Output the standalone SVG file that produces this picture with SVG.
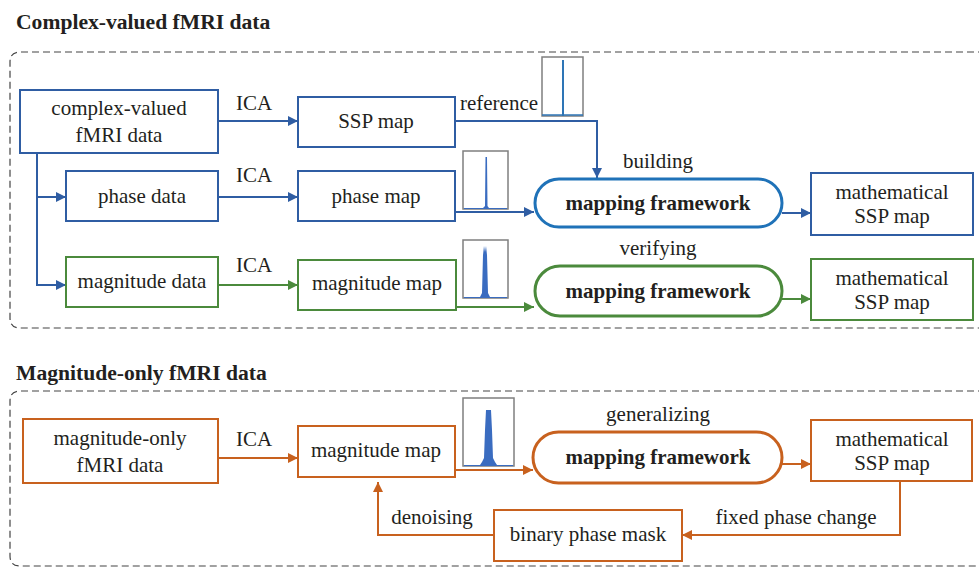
<svg xmlns="http://www.w3.org/2000/svg" width="979" height="568" viewBox="0 0 979 568">
<style>
text{font-family:'Liberation Serif','Times New Roman',serif;font-size:21px;fill:#231f20;text-anchor:middle}
.title{font-weight:bold;text-anchor:start;font-size:21.6px}
.bold{font-weight:bold;font-size:21px}
.dash{fill:none;stroke:#444;stroke-width:1.2;stroke-dasharray:7 4}
.b{fill:#fff;stroke:#2f5da3;stroke-width:2}
.g{fill:#fff;stroke:#4b8a3c;stroke-width:2}
.o{fill:#fff;stroke:#c8611e;stroke-width:2}
.bp{fill:#fff;stroke:#1f72b8;stroke-width:3}
.gp{fill:#fff;stroke:#4b8a3c;stroke-width:3}
.op{fill:#fff;stroke:#c8611e;stroke-width:3}
.hist{fill:#fff;stroke:#7f7f7f;stroke-width:1.5}
.cb{fill:none;stroke:#2f5da3;stroke-width:2}
.cg{fill:none;stroke:#4b8a3c;stroke-width:2}
.co{fill:none;stroke:#c8611e;stroke-width:2}
</style>
<defs>
<marker id="ab" viewBox="0 0 10 10" refX="10" refY="5" markerWidth="12" markerHeight="10" markerUnits="userSpaceOnUse" orient="auto"><path d="M0,0 L10,5 L0,10 z" fill="#2f5da3"/></marker>
<marker id="ag" viewBox="0 0 10 10" refX="10" refY="5" markerWidth="12" markerHeight="10" markerUnits="userSpaceOnUse" orient="auto"><path d="M0,0 L10,5 L0,10 z" fill="#4b8a3c"/></marker>
<marker id="ao" viewBox="0 0 10 10" refX="10" refY="5" markerWidth="12" markerHeight="10" markerUnits="userSpaceOnUse" orient="auto"><path d="M0,0 L10,5 L0,10 z" fill="#c8611e"/></marker>
</defs>
<rect width="979" height="568" fill="#fff"/>

<g id="section1">
<text class="title" x="16" y="29">Complex-valued fMRI data</text>
<path class="dash" d="M985,52 H20 Q10,52 10,62 V318 Q10,328 20,328 H985"/>
</g>
<g id="section2">
<text class="title" x="16" y="380">Magnitude-only fMRI data</text>
<path class="dash" d="M985,391 H20 Q10,391 10,401 V556 Q10,566 20,566 H985"/>
</g>

<g id="connectors">
<line class="cb" x1="218" y1="121" x2="298" y2="121" marker-end="url(#ab)"/>
<text x="254" y="110">ICA</text>
<path class="cb" d="M37,153 V285 H66" marker-end="url(#ab)"/>
<line class="cb" x1="37" y1="197" x2="66" y2="197" marker-end="url(#ab)"/>
<line class="cb" x1="218" y1="197" x2="298" y2="197" marker-end="url(#ab)"/>
<text x="254" y="182">ICA</text>
<line class="cg" x1="218" y1="285" x2="298" y2="285" marker-end="url(#ag)"/>
<text x="254" y="272">ICA</text>
<path class="cb" d="M455,121 H597 V178" marker-end="url(#ab)"/>
<text x="499" y="110">reference</text>
<line class="cb" x1="455" y1="212" x2="534" y2="212" marker-end="url(#ab)"/>
<line class="cb" x1="782" y1="213" x2="811" y2="213" marker-end="url(#ab)"/>
<text x="658" y="168">building</text>
<line class="cg" x1="456" y1="307" x2="534" y2="307" marker-end="url(#ag)"/>
<line class="cg" x1="782" y1="299" x2="811" y2="299" marker-end="url(#ag)"/>
<text x="658" y="255">verifying</text>
<line class="co" x1="218" y1="458" x2="298" y2="458" marker-end="url(#ao)"/>
<text x="254" y="446">ICA</text>
<line class="co" x1="455" y1="470" x2="533" y2="470" marker-end="url(#ao)"/>
<line class="co" x1="782" y1="464" x2="811" y2="464" marker-end="url(#ao)"/>
<text x="658" y="421">generalizing</text>
<path class="co" d="M900,481 V535 H682" marker-end="url(#ao)"/>
<text x="796" y="524">fixed phase change</text>
<path class="co" d="M494,535 H378 V482" marker-end="url(#ao)"/>
<text x="432" y="524">denoising</text>
</g>

<g id="complex-data"><rect class="b" x="20" y="90" width="198" height="63"/><text x="119" y="115">complex-valued</text><text x="119" y="142">fMRI data</text></g>
<g id="ssp-map"><rect class="b" x="298" y="97" width="157" height="50"/><text x="376" y="128">SSP map</text></g>
<g id="ref-hist"><rect class="hist" x="542" y="57" width="41" height="59"/><line x1="563" y1="60" x2="563" y2="116" stroke="#2e75b6" stroke-width="2"/><line x1="542" y1="115" x2="583" y2="115" stroke="#2e75b6" stroke-width="1.5"/></g>
<g id="phase-data"><rect class="b" x="66" y="171" width="152" height="50"/><text x="142" y="203">phase data</text></g>
<g id="phase-map"><rect class="b" x="298" y="171" width="157" height="50"/><text x="376" y="203">phase map</text></g>
<g id="phase-hist"><rect class="hist" x="463" y="151" width="45" height="58"/><polygon points="464,208 483,208 485,206 485.5,157 487,157 487.5,206 489,208 507,208 507,209 464,209" fill="#3a6cc0"/></g>
<g id="mf1"><rect class="bp" x="535" y="179" width="247" height="48" rx="24"/><text class="bold" x="658" y="210">mapping framework</text></g>
<g id="math1"><rect class="b" x="811" y="173" width="162" height="62"/><text x="892" y="199">mathematical</text><text x="892" y="223">SSP map</text></g>
<g id="mag-data"><rect class="g" x="66" y="257" width="152" height="50"/><text x="142" y="288">magnitude data</text></g>
<g id="mag-map"><rect class="g" x="298" y="260" width="158" height="50"/><text x="377" y="290">magnitude map</text></g>
<g id="mag-hist"><rect class="hist" x="463" y="240" width="45" height="58"/><polygon points="464,297 480,297 482,293 483,255 484,246 485,252 486,246 487,255 488,293 490,297 507,297 507,298 464,298" fill="#3a6cc0"/></g>
<g id="mf2"><rect class="gp" x="535" y="266" width="247" height="50" rx="25"/><text class="bold" x="658" y="298">mapping framework</text></g>
<g id="math2"><rect class="g" x="811" y="259" width="162" height="61"/><text x="892" y="285">mathematical</text><text x="892" y="309">SSP map</text></g>
<g id="mo-data"><rect class="o" x="23" y="419" width="195" height="64"/><text x="120" y="445">magnitude-only</text><text x="120" y="472">fMRI data</text></g>
<g id="mo-map"><rect class="o" x="298" y="426" width="157" height="51"/><text x="376" y="457">magnitude map</text></g>
<g id="mo-hist"><rect class="hist" x="463" y="398" width="51" height="68"/><polygon points="464,465 480,465 482,462 484,458 485,430 486,410 491,410 492,430 493,458 495,462 497,465 513,465 513,466 464,466" fill="#3a6cc0"/></g>
<g id="mf3"><rect class="op" x="533" y="432" width="249" height="51" rx="25.5"/><text class="bold" x="658" y="464">mapping framework</text></g>
<g id="math3"><rect class="o" x="811" y="420" width="161" height="61"/><text x="892" y="446">mathematical</text><text x="892" y="470">SSP map</text></g>
<g id="mask"><rect class="o" x="494" y="510" width="188" height="51"/><text x="588" y="541">binary phase mask</text></g>
</svg>
